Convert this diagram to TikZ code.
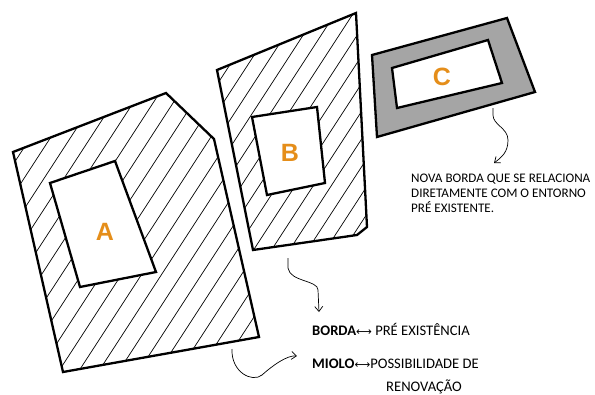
\documentclass[tikz,border=0pt]{standalone}
\usepackage{fontspec}
\setmainfont{Carlito}
\newfontfamily\labelfont{Liberation Sans}
\newfontfamily\arrowfont{DejaVu Sans}
\usetikzlibrary{arrows.meta}
\definecolor{lotorange}{HTML}{E58E1A}
\definecolor{edgegray}{HTML}{A5A5A5}
\tikzset{
  outline/.style={line width=2.3pt, line join=miter},
  hatchline/.style={line width=0.7pt},
  lotlabel/.style={font=\labelfont\bfseries\fontsize{25}{25}\selectfont, text=lotorange},
  note/.style={font=\fontsize{13.1}{15}\selectfont, inner sep=0pt},
  legend/.style={font=\fontsize{14.6}{15}\selectfont, inner sep=0pt},
  pointer/.style={line width=0.7pt, -{Straight Barb[length=5pt,width=8pt]}},
}
\newcommand{\linkarrow}{{\arrowfont\fontsize{11}{11}\selectfont⟷}}

\begin{document}
\begin{tikzpicture}[x=1pt, y=-1pt]
\useasboundingbox (0,0) rectangle (595,394);
\begin{scope}
  \clip (13,152) -- (166,93) -- (214,139) -- (259,337) -- (63,372) -- cycle;
  \foreach \x in {-260,-240,...,260}
    \draw[hatchline] (\x,400) -- ++(260,-400);
\end{scope}
\draw[outline] (13,152) -- (166,93) -- (214,139) -- (259,337) -- (63,372) -- cycle;
\filldraw[outline, fill=white] (50,183) -- (115,161) -- (156,272) -- (80,287) -- cycle;
\node[lotlabel] (lotA) at (105,232) {A};

\begin{scope}
  \clip (217,70) -- (356,13) -- (367,227) -- (357,235) -- (253,250) -- cycle;
  \foreach \x in {-60,-42,...,280}
    \draw[hatchline] (\x,400) -- ++(260,-400);
\end{scope}
\draw[outline] (217,70) -- (356,13) -- (367,227) -- (357,235) -- (253,250) -- cycle;
\filldraw[outline, fill=white] (252,117) -- (317,107) -- (325,183) -- (267,195) -- cycle;
\node[lotlabel] (lotB) at (290,153) {B};

\filldraw[outline, fill=edgegray] (372,55) -- (507,18) -- (535,92) -- (377,137) -- cycle;
\filldraw[outline, fill=white] (392,68) -- (488,40) -- (502,83) -- (397,108) -- cycle;
\node[lotlabel] (lotC) at (442,77) {C};

\node[note, anchor=base west, align=left] (newedge) at (411,212)
  {NOVA BORDA QUE SE RELACIONA\\DIRETAMENTE COM O ENTORNO\\PRÉ EXISTENTE.};
\node[legend, anchor=base west] (borda) at (312,335)
  {\textbf{BORDA}\linkarrow\ PRÉ EXISTÊNCIA};
\node[legend, anchor=base west] (miolo) at (312,368)
  {\textbf{MIOLO}\linkarrow POSSIBILIDADE DE};
\node[legend, anchor=base west] (renov) at (386,391) {RENOVAÇÃO};

\coordinate (cfoot) at (493,108);
\coordinate (ctip) at (494,163);
\draw[pointer] (cfoot) -- ++(0,7) .. controls +(0,10) and +(0,-12) .. (508,140)
  .. controls +(0,12) and +(8,-6) .. (ctip);
\coordinate (bfoot) at (288,258);
\coordinate (btip) at (319,312);
\draw[pointer] (bfoot) -- ++(0,10) .. controls +(2,14) and +(0,-10) .. (318,290) -- (btip);
\coordinate (afoot) at (232,349);
\coordinate (atip) at (297,356);
\draw[pointer] (afoot) .. controls +(-1,23) and +(-10,8) .. (262,375)
  .. controls +(10,-9) and +(-10,-1) .. (atip);
\end{tikzpicture}
\end{document}
